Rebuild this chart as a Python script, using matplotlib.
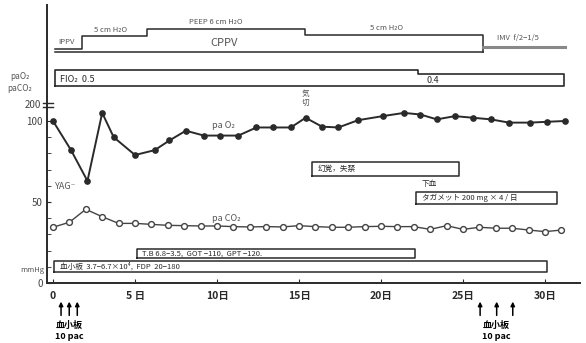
import matplotlib
matplotlib.use('Agg')
import matplotlib.pyplot as plt
import matplotlib.transforms as mtransforms

plt.rcParams['font.family'] = ['Noto Sans CJK JP', 'DejaVu Sans']

INK = "#2a2a2a"
GREY = "#555555"

# paO2 (filled dots)
o2_days = [0, 1.1, 2.1, 3, 3.7, 5, 6.2, 7.1, 8.1, 9.2, 10.2, 11.3, 12.4, 13.4, 14.5,
           15.4, 16.4, 17.4, 18.6, 20.1, 21.4, 22.4, 23.4, 24.5, 25.6, 26.7, 27.8,
           29.1, 30.1, 31.2]
o2_vals = [100, 82, 63, 105, 90, 79, 82, 88, 94, 91, 91, 91, 96, 96, 96,
           102, 96.5, 96, 100.5, 103, 105, 104, 101, 103, 102, 101, 99,
           99, 99.5, 100]

# paCO2 (open dots), one per day
co2_days = list(range(32))
co2_vals = [34.4, 37.5, 45.5, 40.9, 36.8, 36.8, 36.2, 35.6, 35.4, 35.2, 35.2, 34.8,
            34.6, 34.8, 34.6, 35.4, 34.8, 34.4, 34.4, 34.8, 35.0, 34.8, 34.8, 33.1,
            35.4, 33.1, 34.4, 33.8, 33.8, 32.7, 31.7, 32.7]

xtick_pos = [0, 5, 10, 15, 20, 25, 30]
xtick_labels = ["0", "5 日", "10日", "15日", "20日", "25日", "30日"]

# ventilation mode steps (day, level) drawn above the blood-gas panel
mode_x = [0.1, 1.77, 1.77, 5.73, 5.73, 15.37, 15.37, 26.2, 26.2]
mode_y = [144.3, 144.3, 152.5, 152.5, 156.6, 156.6, 153.0, 153.0, 142.6]
imv_x = [26.2, 31.2]
imv_y = [145.4, 145.4]

# FiO2 box outline
fio2_x = [0.1, 0.1, 22.26, 22.26, 31.16, 31.16, 0.1]
fio2_y = [121.6, 131.2, 131.2, 129.3, 129.3, 121.6, 121.6]

# annotation boxes: (start day, end day, low, high, text)
boxes = [
    (15.77, 24.76, 66.0, 74.5, "幻覚，失禁"),
    (22.13, 30.75, 48.6, 56.4, "タガメット 200 mg × 4 / 日"),
    (5.1, 22.1, 15.4, 21.0, "T.B 6.8−3.5,  GOT −110,  GPT −120."),
    (0.06, 30.1, 6.8, 13.6, "血小板  3.7−6.7×10⁴,  FDP  20−180"),
]

platelet_left = [0.49, 0.99, 1.48]
platelet_right = [26.04, 27.05, 28.03]

fig = plt.figure(figsize=(5.86, 3.43), dpi=100)
ax = fig.add_axes([47 / 586, 1 - 283 / 343, 533 / 586, 278 / 343])
ax.set_xlim(-0.366, 32.13)
ax.set_ylim(0, 171.6)

for s in ["top", "right"]:
    ax.spines[s].set_visible(False)
for s in ["left", "bottom"]:
    ax.spines[s].set_color(INK)
    ax.spines[s].set_linewidth(1.4)

ax.set_xticks(xtick_pos)
ax.set_xticklabels(xtick_labels, fontsize=7.5, fontweight="bold", color=INK)
ax.tick_params(axis="x", direction="in", length=3, color=INK, pad=6)
ax.set_yticks([0, 50, 100])
ax.set_yticklabels(["0", "50", "100"], fontsize=7, color="#444444")
ax.set_yticks(range(0, 101, 10), minor=True)
ax.tick_params(axis="y", which="both", direction="in", length=3, color=INK, pad=3)

# axis break and 200 label
trans = mtransforms.blended_transform_factory(ax.transAxes, ax.transData)
for yb in (108.6, 111.0):
    ax.plot([-0.008, 0.012], [yb, yb], color=INK, lw=1, transform=trans, clip_on=False)
ax.text(-0.012, 110, "200", transform=trans, ha="right", va="center", fontsize=7, color="#444444")
ax.text(-2.6, 127.6, "paO₂", fontsize=6, color=GREY, va="center", clip_on=False)
ax.text(-2.8, 120.2, "paCO₂", fontsize=6, color=GREY, va="center", clip_on=False)
ax.text(-0.5, 8, "mmHg", fontsize=5.5, color=GREY, ha="right", va="center", clip_on=False)

# blood gas series
ax.plot(o2_days, o2_vals, "-o", color=INK, lw=1.4, ms=3.8, mfc=INK, mec=INK, clip_on=False)
ax.plot(co2_days, co2_vals, "-o", color="#444444", lw=1.0, ms=4.2, mfc="white", mec="#444444",
        clip_on=False)
ax.text(9.7, 97.5, "pa O₂", fontsize=6.5, color=GREY, va="center")
ax.text(9.7, 40, "pa CO₂", fontsize=6.5, color=GREY, va="center")
ax.text(0.15, 59.3, "YAG⁻", fontsize=6.5, color=GREY, va="center")
ax.text(15.4, 114, "気\n切", fontsize=5.5, color=GREY, ha="center", va="center", linespacing=1.1)

# ventilation panel
ax.plot(mode_x, mode_y, color=INK, lw=1.1, clip_on=False)
ax.plot([0.1, 26.2], [142.6, 142.6], color=INK, lw=1.1, clip_on=False)
ax.plot(imv_x, imv_y, color="#888888", lw=2.2, clip_on=False)
ax.text(0.3, 148.8, "IPPV", fontsize=5.5, color=GREY, va="center")
ax.text(2.5, 156.0, "5 cm H₂O", fontsize=5.5, color=GREY, va="center")
ax.text(8.3, 160.8, "PEEP 6 cm H₂O", fontsize=5.5, color=GREY, va="center")
ax.text(10.4, 148.0, "CPPV", fontsize=8, color=GREY, ha="center", va="center")
ax.text(19.3, 157.2, "5 cm H₂O", fontsize=5.5, color=GREY, va="center")
ax.text(27.1, 151.0, "IMV  f/2−1/5", fontsize=5.5, color=GREY, va="center")

ax.plot(fio2_x, fio2_y, color=INK, lw=1.2, clip_on=False)
ax.text(0.45, 125.6, "FIO₂  0.5", fontsize=6.5, color=INK, va="center")
ax.text(22.8, 125.3, "0.4", fontsize=6.5, color=INK, va="center")

# text boxes
for x0, x1, y0, y1, label in boxes:
    ax.plot([x0, x1, x1, x0, x0], [y0, y0, y1, y1, y0], color=INK, lw=1.1)
    ax.text(x0 + 0.35, (y0 + y1) / 2, label, fontsize=5.5, color=INK, va="center")
ax.text(22.5, 61.1, "下血", fontsize=5.5, color=INK, va="center")

# platelet transfusion arrows under the axis
for group, centre in ((platelet_left, 0.99), (platelet_right, 27.05)):
    for d in group:
        ax.annotate("", xy=(d, -11.5), xytext=(d, -20.0), annotation_clip=False,
                    arrowprops=dict(arrowstyle="-|>", color="black", lw=1.1,
                                    mutation_scale=6, shrinkA=0, shrinkB=0))
    ax.text(centre, -26.0, "血小板", fontsize=6.5, fontweight="bold", ha="center",
            va="center", clip_on=False)
    ax.text(centre, -33.3, "10 pac", fontsize=6.5, fontweight="bold", ha="center",
            va="center", clip_on=False)

fig.savefig("out.png", dpi=100)
